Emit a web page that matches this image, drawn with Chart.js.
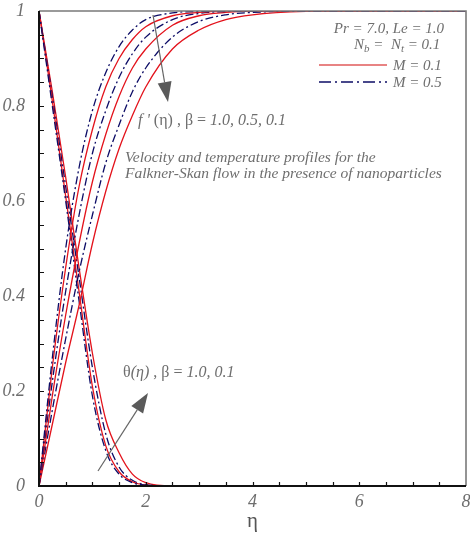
<!DOCTYPE html>
<html>
<head>
<meta charset="utf-8">
<script src="https://cdn.jsdelivr.net/npm/chart.js@4.4.1/dist/chart.umd.min.js"></script>
<style>
    html, body {margin: 0; padding: 0; background: #fff;}
    #box {width: 470px; height: 535px; position: relative;}
</style>
</head>
<body>
<div id="box"><canvas id="cv"></canvas></div>
<script>
var etaPts = [0, 0.25, 0.5, 0.75, 1, 1.25, 1.5, 1.75, 2, 2.5, 3, 3.5, 4, 5, 6, 8]

// f'(eta) velocity profiles
var fpB10M05 = [0, 0.27, 0.50, 0.67, 0.79, 0.87, 0.925, 0.96, 0.982, 0.996, 0.999, 1, 1, 1, 1, 1]
var fpB10M01 = [0, 0.25, 0.46, 0.63, 0.75, 0.84, 0.90, 0.94, 0.967, 0.99, 0.997, 1, 1, 1, 1, 1]
var fpB05M05 = [0, 0.22, 0.41, 0.57, 0.70, 0.79, 0.86, 0.91, 0.945, 0.982, 0.995, 0.999, 1, 1, 1, 1]
var fpB05M01 = [0, 0.19, 0.36, 0.51, 0.64, 0.74, 0.82, 0.88, 0.92, 0.97, 0.99, 0.997, 1, 1, 1, 1]
var fpB01M05 = [0, 0.16, 0.31, 0.45, 0.57, 0.68, 0.76, 0.83, 0.88, 0.945, 0.978, 0.992, 0.997, 1, 1, 1]
var fpB01M01 = [0, 0.13, 0.26, 0.38, 0.51, 0.62, 0.71, 0.78, 0.84, 0.92, 0.96, 0.982, 0.992, 0.999, 1, 1]

// theta(eta) temperature profiles
var thB10M05 = [1, 0.80, 0.60, 0.39, 0.19, 0.075, 0.025, 0.007, 0.002, 0, 0, 0, 0, 0, 0, 0]
var thB10M01 = [1, 0.81, 0.61, 0.41, 0.21, 0.085, 0.03, 0.009, 0.002, 0, 0, 0, 0, 0, 0, 0]
var thB01M05 = [1, 0.82, 0.63, 0.44, 0.25, 0.11, 0.04, 0.012, 0.003, 0, 0, 0, 0, 0, 0, 0]
var thB01M01 = [1, 0.83, 0.65, 0.46, 0.28, 0.14, 0.07, 0.025, 0.007, 0, 0, 0, 0, 0, 0, 0]

var xTicks = [0, 2, 4, 6, 8]
var yTicks = [0, 0.2, 0.4, 0.6, 0.8, 1]

var redCol = '#e3121b'
var navyCol = '#0c0c66'
var greyTxt = '#6e6e6e'
var serif = '"Liberation Serif", "Times New Roman", serif'

function pts(arr){
    return etaPts.map(function(e, i){ return {x: e, y: arr[i]} })
}
function line(arr, isM05){
    return {
        data: pts(arr),
        borderColor: isM05 ? navyCol : redCol,
        borderWidth: 1.3,
        borderDash: isM05 ? [8, 3, 2, 3] : [],
        pointRadius: 0,
        fill: false,
        cubicInterpolationMode: 'monotone'
    }
}

function drawArrow(ctx, x1, y1, x2, y2){
    var ang = Math.atan2(y2 - y1, x2 - x1)
    var hl = 20, hw = 7
    var bx = x2 - hl * Math.cos(ang), by = y2 - hl * Math.sin(ang)
    ctx.strokeStyle = '#666'
    ctx.lineWidth = 1.2
    ctx.beginPath(); ctx.moveTo(x1, y1); ctx.lineTo(bx, by); ctx.stroke()
    ctx.fillStyle = '#5a5a5a'
    ctx.beginPath()
    ctx.moveTo(x2, y2)
    ctx.lineTo(bx + hw * Math.sin(ang), by - hw * Math.cos(ang))
    ctx.lineTo(bx - hw * Math.sin(ang), by + hw * Math.cos(ang))
    ctx.closePath(); ctx.fill()
}

// draw text pieces one after another: [text, style, size, dy]
function drawRun(ctx, x, y, parts){
    parts.forEach(function(p){
        ctx.font = (p[1] || '') + ' ' + (p[2] || 15) + 'px ' + serif
        ctx.fillText(p[0], x, y + (p[3] || 0))
        x += ctx.measureText(p[0]).width
    })
    return x
}

var framePlugin = {
    id: 'frame',
    afterDraw: function(chart){
        var ctx = chart.ctx, a = chart.chartArea
        var xs = chart.scales.x, ys = chart.scales.y
        ctx.save()
        // top and right border
        ctx.strokeStyle = '#7a7a7a'; ctx.lineWidth = 1.6
        ctx.beginPath(); ctx.moveTo(a.left, a.top); ctx.lineTo(a.right, a.top); ctx.lineTo(a.right, a.bottom); ctx.stroke()
        // left and bottom axes
        ctx.strokeStyle = '#111'; ctx.lineWidth = 2
        ctx.beginPath(); ctx.moveTo(a.left, a.top); ctx.lineTo(a.left, a.bottom); ctx.lineTo(a.right, a.bottom); ctx.stroke()
        // inward ticks
        ctx.lineWidth = 1.2
        ctx.beginPath()
        for(var v = 0.05; v < 1; v += 0.05){
            var py = Math.round(ys.getPixelForValue(v)) + 0.5
            ctx.moveTo(a.left, py); ctx.lineTo(a.left + 5, py)
        }
        for(var u = 0.5; u < 8; u += 0.5){
            var px = Math.round(xs.getPixelForValue(u)) + 0.5
            ctx.moveTo(px, a.bottom); ctx.lineTo(px, a.bottom - 4)
        }
        ctx.stroke()

        // legend box
        ctx.fillStyle = greyTxt
        ctx.textBaseline = 'alphabetic'
        ctx.font = 'italic 15px ' + serif
        ctx.textAlign = 'right'
        ctx.fillText('Pr = 7.0, Le = 1.0', 444, 33)
        ctx.textAlign = 'left'
        var nx = drawRun(ctx, 354, 49, [['N', 'italic', 15], ['b', 'italic', 11, 3]])
        nx = drawRun(ctx, nx, 49, [[' =  N', 'italic', 15], ['t', 'italic', 11, 3], [' = 0.1', 'italic', 15]])
        ctx.strokeStyle = '#e05a5a'; ctx.lineWidth = 1.6; ctx.setLineDash([])
        ctx.beginPath(); ctx.moveTo(319, 65); ctx.lineTo(387, 65); ctx.stroke()
        ctx.strokeStyle = navyCol; ctx.setLineDash([12, 4, 2, 4])
        ctx.beginPath(); ctx.moveTo(319, 82); ctx.lineTo(387, 82); ctx.stroke()
        ctx.setLineDash([])
        drawRun(ctx, 393, 70, [['M = 0.1', 'italic', 15]])
        drawRun(ctx, 393, 87, [['M = 0.5', 'italic', 15]])

        // annotations
        drawRun(ctx, 138, 125, [["f ' ", 'italic', 16], ['(η)', '', 16], [' , β = ', '', 16], ['1.0, 0.5, 0.1', 'italic', 16]])
        drawRun(ctx, 125, 162, [['Velocity and temperature profiles for the', 'italic', 15.5]])
        drawRun(ctx, 125, 178, [['Falkner-Skan flow in the presence of nanoparticles', 'italic', 15.5]])
        drawRun(ctx, 123, 377, [['θ', '', 16], ['(η)', 'italic', 16], [' , β = ', '', 16], ['1.0, 0.1', 'italic', 16]])
        drawArrow(ctx, 153, 15, 168, 102)
        drawArrow(ctx, 98, 471, 148, 393)
        ctx.restore()
    }
}

new Chart(document.getElementById('cv'), {
    type: 'line',
    data: {
        datasets: [
            line(fpB10M05, true), line(fpB10M01, false),
            line(fpB05M05, true), line(fpB05M01, false),
            line(fpB01M05, true), line(fpB01M01, false),
            line(thB10M05, true), line(thB10M01, false),
            line(thB01M05, true), line(thB01M01, false)
        ]
    },
    options: {
        responsive: true,
        maintainAspectRatio: false,
        animation: false,
        layout: {padding: {top: 11, right: 4, left: 0, bottom: 0}},
        plugins: {legend: {display: false}, tooltip: {enabled: false}},
        scales: {
            x: {
                type: 'linear', min: 0, max: 8,
                afterBuildTicks: function(s){ s.ticks = xTicks.map(function(v){ return {value: v} }) },
                afterFit: function(s){ s.height = 49; s.paddingLeft = 0; s.paddingRight = 0 },
                grid: {display: false}, border: {display: false},
                ticks: {color: greyTxt, padding: -3, maxRotation: 0, font: {family: serif, style: 'italic', size: 18},
                    callback: function(v){ return String(+v.toFixed(1)) }},
                title: {display: true, text: 'η', color: '#555', padding: {top: 0, bottom: 1}, font: {family: serif, size: 21}}
            },
            y: {
                type: 'linear', min: 0, max: 1,
                afterBuildTicks: function(s){ s.ticks = yTicks.map(function(v){ return {value: v} }) },
                afterFit: function(s){ s.width = 39; s.paddingTop = 0; s.paddingBottom = 0 },
                grid: {display: false}, border: {display: false},
                ticks: {color: greyTxt, padding: 6, font: {family: serif, style: 'italic', size: 18},
                    callback: function(v){ return String(+v.toFixed(1)) }}
            }
        }
    },
    plugins: [framePlugin]
})
</script>
</body>
</html>
